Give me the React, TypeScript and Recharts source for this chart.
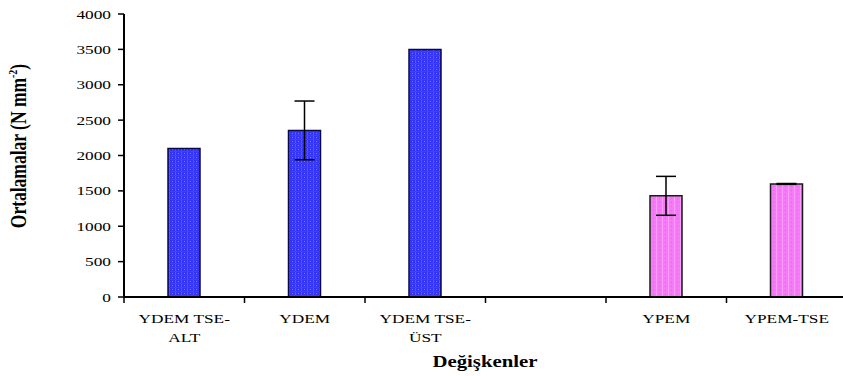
import React from 'react';
import { BarChart, Bar, XAxis, YAxis, Cell, ErrorBar, Label } from 'recharts';

const categories = ['YDEM TSE-\nALT', 'YDEM', 'YDEM TSE-\nÜST', '', 'YPEM', 'YPEM-TSE'];
const means = [2100, 2355, 3500, null, 1430, 1598];
const errors = [0, 415, 0, null, 275, 6];
const yTicks = [0, 500, 1000, 1500, 2000, 2500, 3000, 3500, 4000];
const groups = ['ydem', 'ydem', 'ydem', '', 'ypem', 'ypem'];

const data = categories.map((name, i) => ({ name, value: means[i], err: errors[i], group: groups[i] }));

const W = 847;
const H = 376;
const LEFT = 124;
const TOP = 14;
const XH = 79;
const BAND = (W - LEFT) / categories.length;
const FONT = 'Liberation Serif';
const STRETCH = 1.3;

const XTick = (props: any) => {
  const { x, y, payload, index } = props;
  const lines = String(payload.value).split('\n');
  return (
    <g>
      <line x1={x - BAND / 2} y1={y} x2={x - BAND / 2} y2={y + 6} stroke="#000" strokeWidth={1.5} />
      {index === categories.length - 1 && (
        <line x1={x + BAND / 2} y1={y} x2={x + BAND / 2} y2={y + 6} stroke="#000" strokeWidth={1.5} />
      )}
      {lines.map((ln, i) => (
        <text
          key={i}
          transform={`translate(${x},${y + 26 + i * 19}) scale(${STRETCH},1)`}
          textAnchor="middle"
          style={{ fontFamily: FONT, fontSize: 13.3 }}
          fill="#000"
        >
          {ln}
        </text>
      ))}
    </g>
  );
};

const YTick = (props: any) => {
  const { x, y, payload } = props;
  return (
    <text
      transform={`translate(${x},${y + 4.5}) scale(${STRETCH},1)`}
      textAnchor="end"
      style={{ fontFamily: FONT, fontSize: 13.3 }}
      fill="#000"
    >
      {payload.value}
    </text>
  );
};

const YTitle = () => (
  <text
    transform={`translate(26,146) scale(${STRETCH},1) rotate(-90)`}
    textAnchor="middle"
    style={{ fontFamily: FONT, fontSize: 17.5, fontWeight: 'bold' }}
    fill="#000"
  >
    Ortalamalar (N mm
    <tspan dy={-7} style={{ fontSize: 10 }}>-2</tspan>
    <tspan dy={7}>)</tspan>
  </text>
);

const XTitle = () => (
  <text
    transform={`translate(485,367) scale(${STRETCH},1)`}
    textAnchor="middle"
    style={{ fontFamily: FONT, fontSize: 16, fontWeight: 'bold' }}
    fill="#000"
  >
    Değişkenler
  </text>
);

export default function App() {
  return (
    <div style={{ position: 'absolute', left: 0, top: 0, width: 843, height: H, overflow: 'hidden', background: '#fff' }}>
      <BarChart width={W} height={H} data={data} margin={{ top: TOP, right: 0, bottom: 0, left: 0 }} barSize={32}>
        <defs>
          <pattern id="blueFill" width="6" height="4" patternUnits="userSpaceOnUse">
            <rect width="6" height="4" fill="#3434f6" />
            <rect x="1" width="1" height="4" fill="#5656ff" />
            <rect x="4" y="1" width="1" height="1" fill="#7a7aff" />
            <rect y="3" width="6" height="1" fill="#4040fb" />
          </pattern>
          <pattern id="pinkFill" width="6" height="4" patternUnits="userSpaceOnUse">
            <rect width="6" height="4" fill="#f57af5" />
            <rect x="2" width="1" height="4" fill="#fb9bfb" />
            <rect x="5" y="2" width="1" height="1" fill="#ee5cee" />
          </pattern>
        </defs>
        <XAxis
          dataKey="name"
          height={XH}
          interval={0}
          tickLine={false}
          tickSize={0}
          tickMargin={0}
          tick={<XTick />}
          axisLine={{ stroke: '#000', strokeWidth: 2 }}
        >
          <Label content={<XTitle />} />
        </XAxis>
        <YAxis
          width={LEFT}
          domain={[0, 4000]}
          ticks={yTicks}
          interval={0}
          tick={<YTick />}
          tickSize={6}
          tickMargin={7}
          tickLine={{ stroke: '#000', strokeWidth: 1.5 }}
          axisLine={{ stroke: '#000', strokeWidth: 2 }}
        >
          <Label content={<YTitle />} />
        </YAxis>
        <Bar dataKey="value" isAnimationActive={false} strokeWidth={1.5}>
          {data.map((d, i) => (
            <Cell
              key={i}
              fill={d.group === 'ypem' ? 'url(#pinkFill)' : 'url(#blueFill)'}
              stroke={d.group === 'ypem' ? '#1a1a1a' : '#0a0a40'}
            />
          ))}
          <ErrorBar dataKey="err" width={10} stroke="#000" strokeWidth={1.5} direction="y" />
        </Bar>
      </BarChart>
    </div>
  );
}
